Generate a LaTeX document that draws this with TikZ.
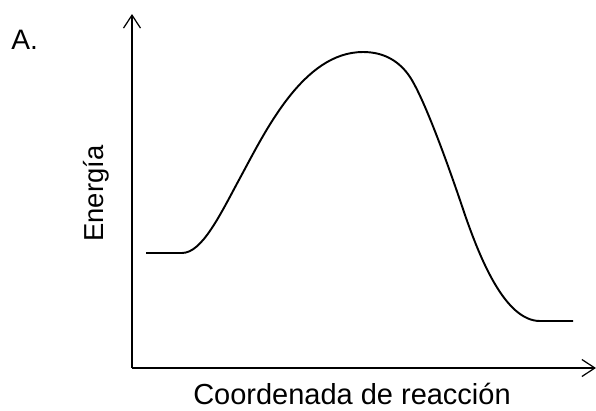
\documentclass[tikz,border=0pt]{standalone}
\usepackage{fontspec}
\setmainfont{Liberation Sans}
\usetikzlibrary{arrows.meta,positioning}

\tikzset{
  axis/.style={line width=0.7pt,-{Straight Barb[length=2.6mm,width=3.4mm,line width=0.7pt]}},
  energy/.style={line width=1.1pt,line join=round},
  lbl/.style={font=\fontsize{16}{19}\selectfont,inner sep=0pt}
}

\begin{document}
\begin{tikzpicture}[x=0.02cm,y=-0.02cm]
\useasboundingbox (0,0) rectangle (596,410);

% axes
\coordinate (o) at (132,368);
\coordinate (ytop) at (132,14);
\coordinate (xend) at (596,368);
\draw[axis] (o) -- (ytop);
\draw[axis] (o) -- (xend);

% labels
\node[lbl,anchor=base west] (panel) at (11,49) {A.};
\node[lbl,font=\fontsize{15.6}{19}\selectfont,rotate=90,anchor=base west] (ylab) at (103,242) {Energía};
\node[lbl,font=\fontsize{16.5}{20}\selectfont,anchor=base] (xlab) at (352,404) {Coordenada de reacción};

% reaction profile
\coordinate (r0) at (146,253);
\coordinate (r1) at (182,253);
\coordinate (ts) at (363,52);
\coordinate (p1) at (540,321);
\coordinate (p0) at (573,321);
\draw[energy] (r0) -- (r1)
  .. controls (202,253) and (220,215) .. (240,178)
  .. controls (265,132) and (303,52) .. (ts)
  .. controls (385,52) and (400,62) .. (410,77)
  .. controls (425,100) and (450,170) .. (465,215)
  .. controls (480,258) and (505,321) .. (p1) -- (p0);

\end{tikzpicture}
\end{document}
